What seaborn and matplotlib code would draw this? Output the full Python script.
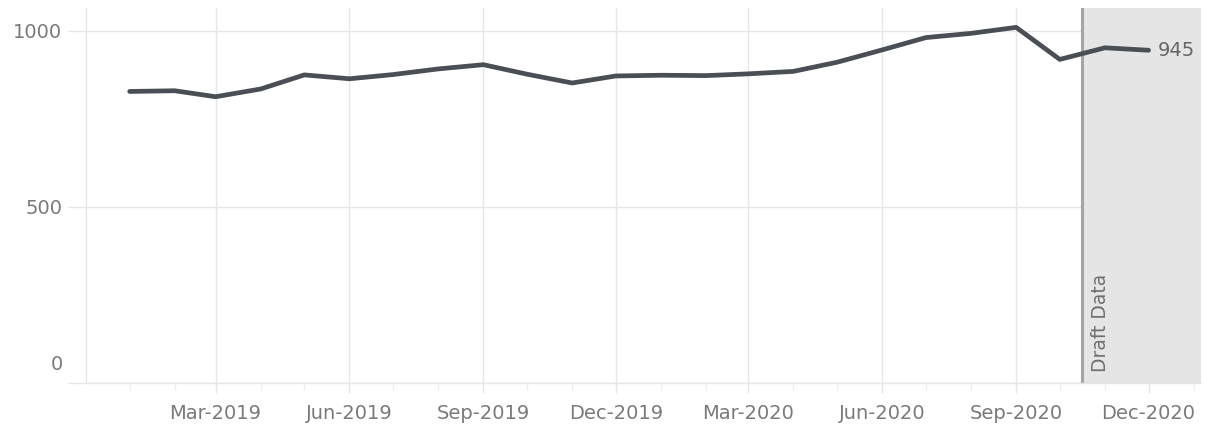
import matplotlib
matplotlib.use("Agg")
import matplotlib.pyplot as plt
import matplotlib.dates as mdates
import seaborn as sns
import pandas as pd
import numpy as np

# ---- data ----
months = pd.date_range("2019-01-01", "2020-12-01", freq="MS")
values = [828, 830, 813, 835, 875, 864, 876, 892, 904, 877, 852, 872,
          874, 873, 878, 885, 911, 946, 981, 993, 1010, 919, 952, 945]
draft_start = pd.Timestamp("2020-10-16")
x_limits = [pd.Timestamp("2018-12-02"), pd.Timestamp("2021-01-06")]
y_ticks = [0, 500, 1000]
draft_label = "Draft Data"
last_label = "945"

df = pd.DataFrame({"month": months, "value": values})

sns.set_theme(style="white")
plt.rcParams["font.family"] = ["DejaVu Sans"]

W, H, DPI = 1211, 425, 100
fig = plt.figure(figsize=(W / DPI, H / DPI), dpi=DPI)
ax = fig.add_axes([86 / W, 1 - 383 / H, (1201 - 86) / W, (383 - 8) / H])

grid_c = "#e6e6e6"
text_c = "#7a7a7a"

ax.set_axisbelow(True)
ax.axvspan(draft_start, x_limits[1], color="#e5e5e5", lw=0, zorder=1)
ax.axvline(draft_start, color="#a5a5a5", lw=2.2, zorder=1.5)

sns.lineplot(data=df, x="month", y="value", ax=ax, color="#4a4e55",
             linewidth=3.4, zorder=3, solid_capstyle="round")

ax.set_xlim(x_limits)
ax.set_ylim(0, 1065)

ax.xaxis.set_major_locator(mdates.MonthLocator(bymonth=[3, 6, 9, 12]))
ax.xaxis.set_major_formatter(mdates.DateFormatter("%b-%Y"))
ax.xaxis.set_minor_locator(mdates.MonthLocator())
ax.set_yticks(y_ticks)
ax.set_yticklabels(["" if v == 0 else str(v) for v in y_ticks])

ax.grid(True, which="major", color=grid_c, lw=1)
ax.tick_params(axis="x", which="major", length=7, width=1, color=grid_c,
               pad=8, labelsize=14, labelcolor=text_c, bottom=True)
ax.tick_params(axis="x", which="minor", length=5, width=1, color="#eeeeee",
               bottom=True)
ax.tick_params(axis="y", which="major", length=13, width=1, color=grid_c,
               pad=4, labelsize=14, labelcolor=text_c, left=True)

for s in ["top", "right"]:
    ax.spines[s].set_visible(False)
ax.spines["left"].set_color(grid_c)
ax.spines["bottom"].set_color(grid_c)
ax.spines["left"].set_linewidth(1)
ax.spines["bottom"].set_linewidth(1)

ax.set_xlabel("")
ax.set_ylabel("")

# zero label sits above the baseline
ax.annotate("0", xy=(0, 0), xycoords=("axes fraction", "data"),
            xytext=(-23, 18), textcoords="offset pixels",
            ha="right", va="center", fontsize=14, color=text_c)

# last value label
ax.annotate(last_label, xy=(months[-1], values[-1]), xytext=(9, 0),
            textcoords="offset pixels", ha="left", va="center",
            fontsize=14, color="#666666", zorder=4)

# draft data label
ax.annotate(draft_label, xy=(draft_start, 0), xytext=(19, 11),
            textcoords="offset pixels", rotation=90, ha="center",
            va="bottom", fontsize=13.5, color="#707070", zorder=4)

fig.savefig("out.png", dpi=DPI, facecolor="white")
